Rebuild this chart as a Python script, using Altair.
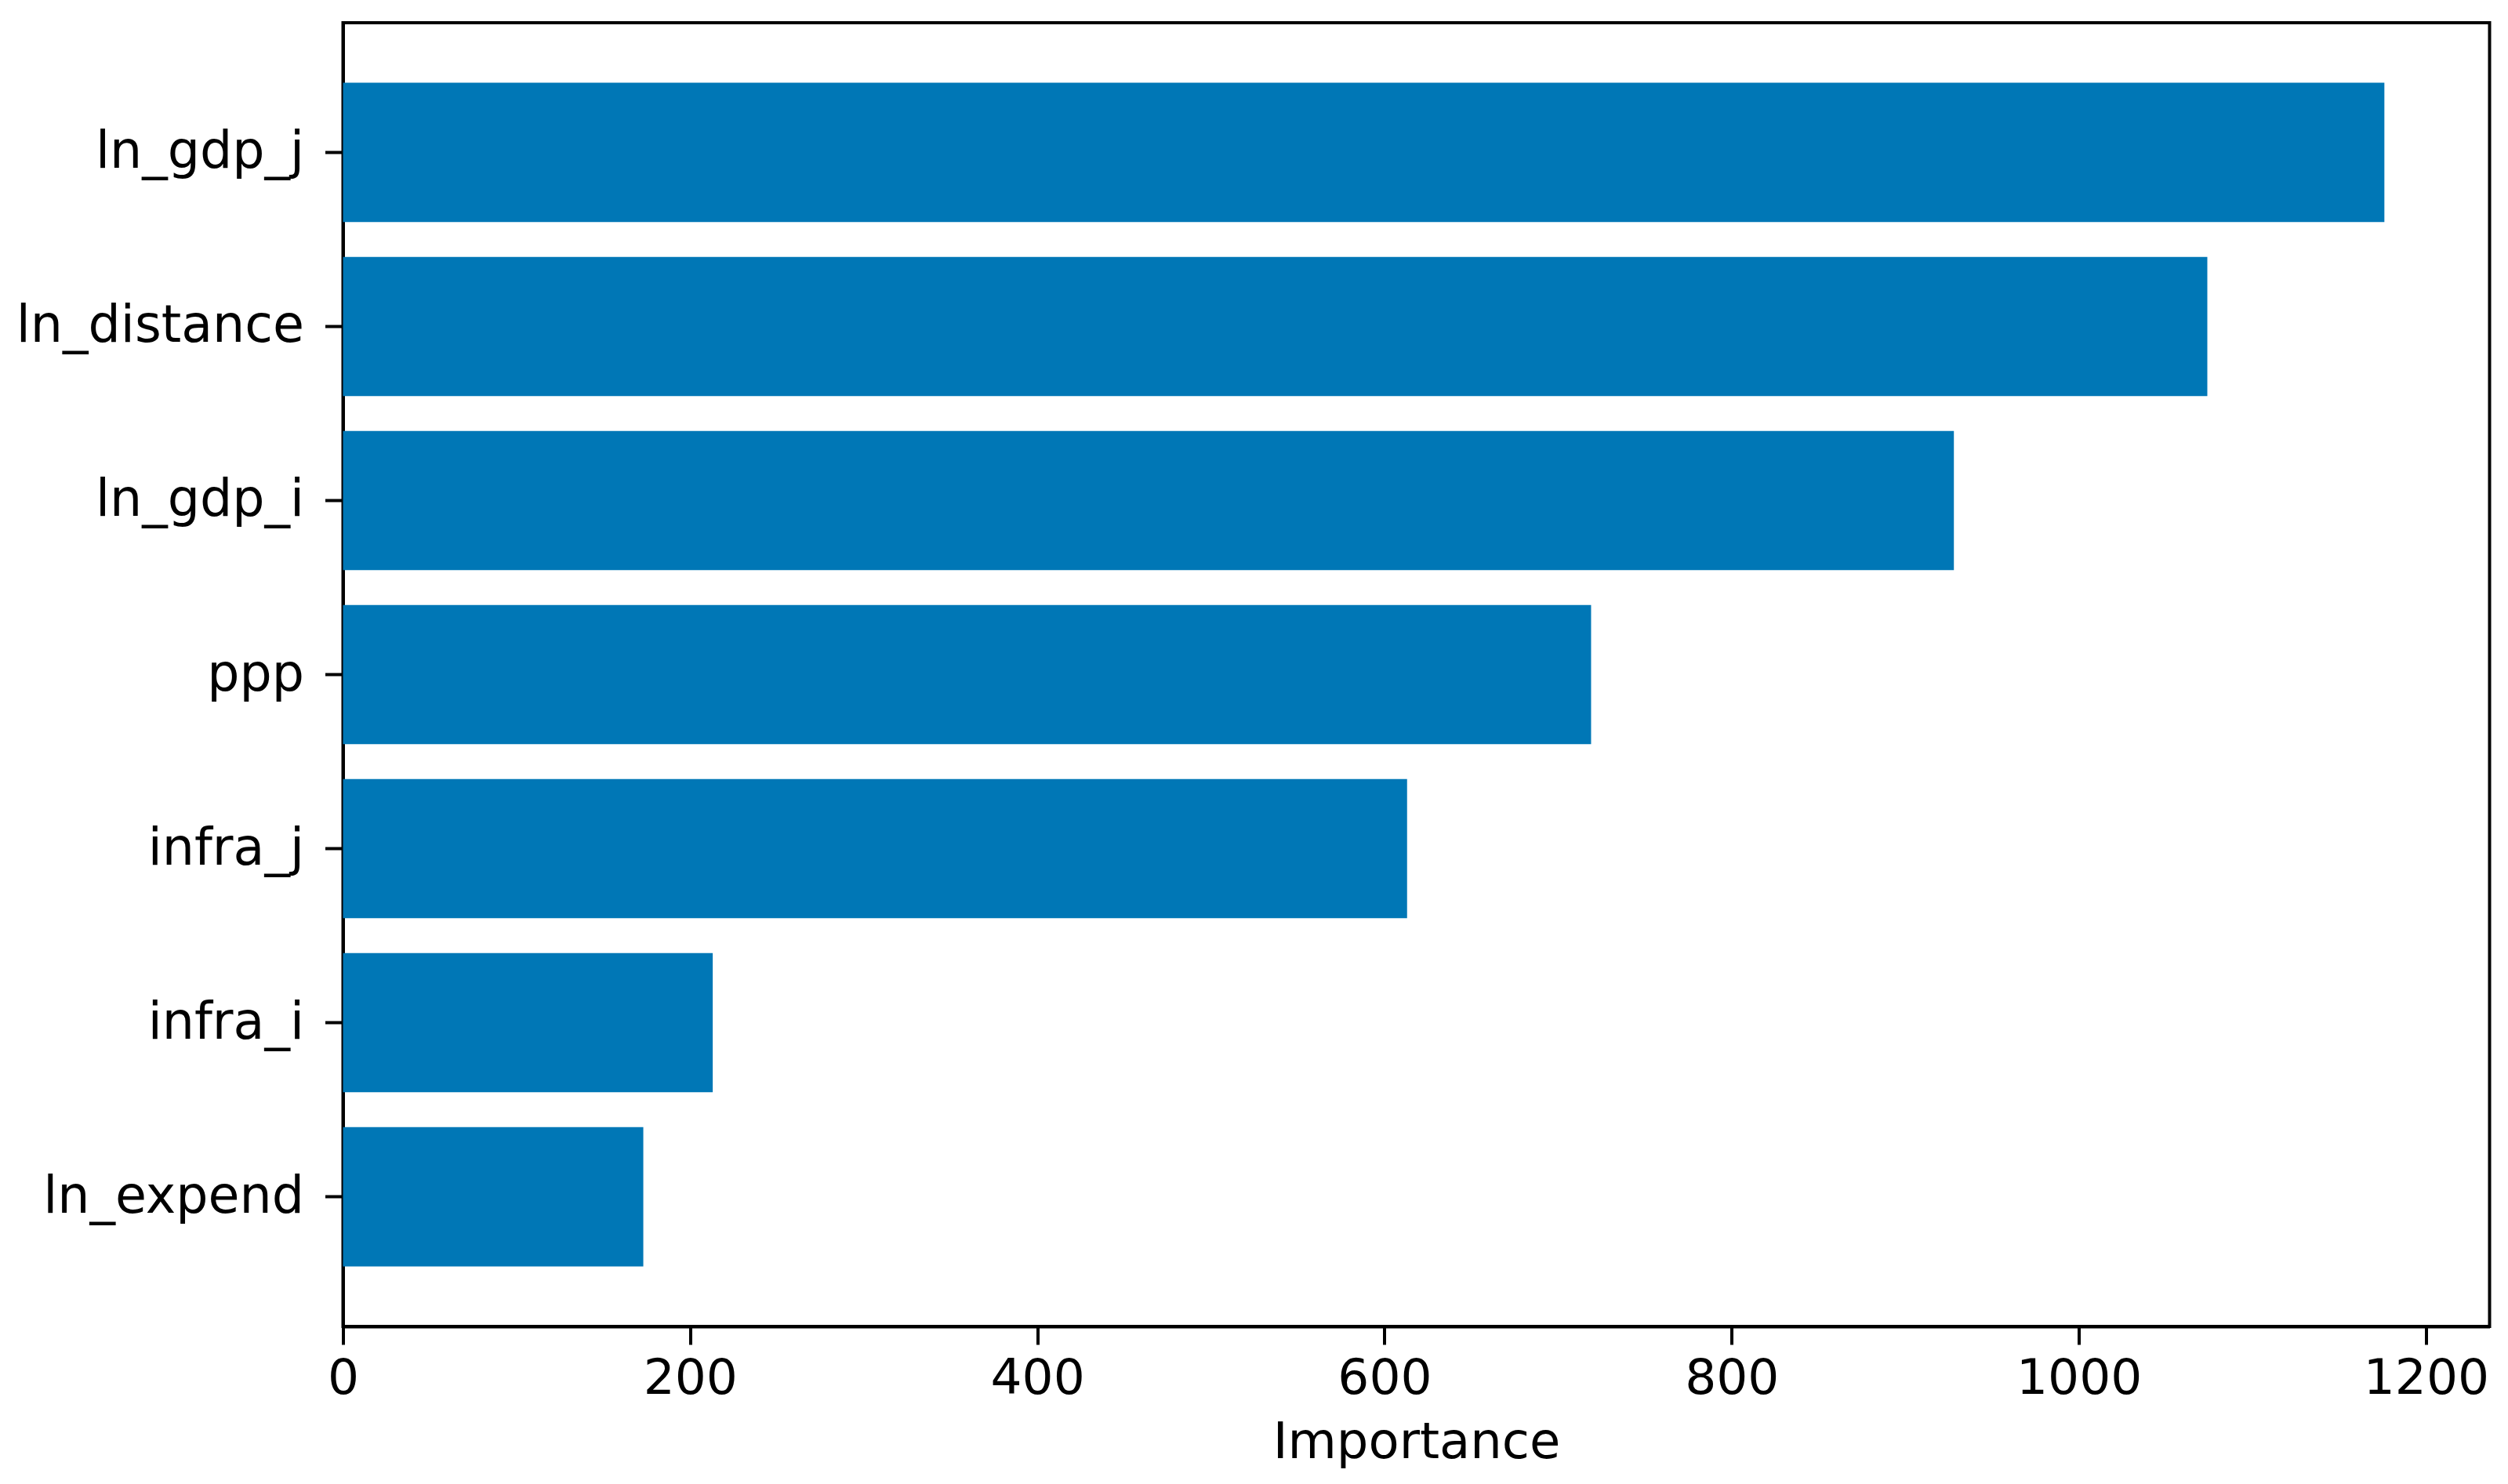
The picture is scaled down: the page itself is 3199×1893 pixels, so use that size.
import altair as alt
import pandas as pd

features = ["ln_gdp_j", "ln_distance", "ln_gdp_i", "ppp", "infra_j", "infra_i", "ln_expend"]
importance = [1176, 1074, 928, 719, 613, 213, 173]
x_ticks = [0, 200, 400, 600, 800, 1000, 1200]

df = pd.DataFrame({"feature": features, "importance": importance})

W = 2738
H = 1663
FONT = "DejaVu Sans"

chart = (
    alt.Chart(df)
    .mark_bar(color="#0077b6")
    .encode(
        x=alt.X(
            "importance:Q",
            scale=alt.Scale(domain=[0, 1236.6], nice=False, zero=True),
            axis=alt.Axis(
                title="Importance",
                values=x_ticks,
                format="d",
                grid=False,
                labelFlush=False,
                labelLimit=0,
                domainColor="black",
                domainWidth=4,
                tickColor="black",
                tickWidth=4,
                tickSize=23,
                labelFont=FONT,
                labelFontSize=63,
                labelColor="black",
                labelPadding=12,
                titleFont=FONT,
                titleFontSize=64,
                titleFontWeight="normal",
                titleColor="black",
                titlePadding=18,
            ),
        ),
        y=alt.Y(
            "feature:N",
            sort=features,
            scale=alt.Scale(paddingInner=0.2, paddingOuter=0.345),
            axis=alt.Axis(
                title=None,
                grid=False,
                labelLimit=0,
                domainColor="black",
                domainWidth=4,
                tickColor="black",
                tickWidth=4,
                tickSize=23,
                labelFont=FONT,
                labelFontSize=65,
                labelColor="black",
                labelPadding=27,
            ),
        ),
    )
    .properties(
        width=W,
        height=H,
        autosize=alt.AutoSizeParams(type="none"),
        padding={"left": 429.5, "top": 21, "right": 15, "bottom": 195},
    )
    .configure_view(stroke="black", strokeWidth=4)
)

chart.save("out.html", embed_options={"renderer": "svg", "actions": False})
